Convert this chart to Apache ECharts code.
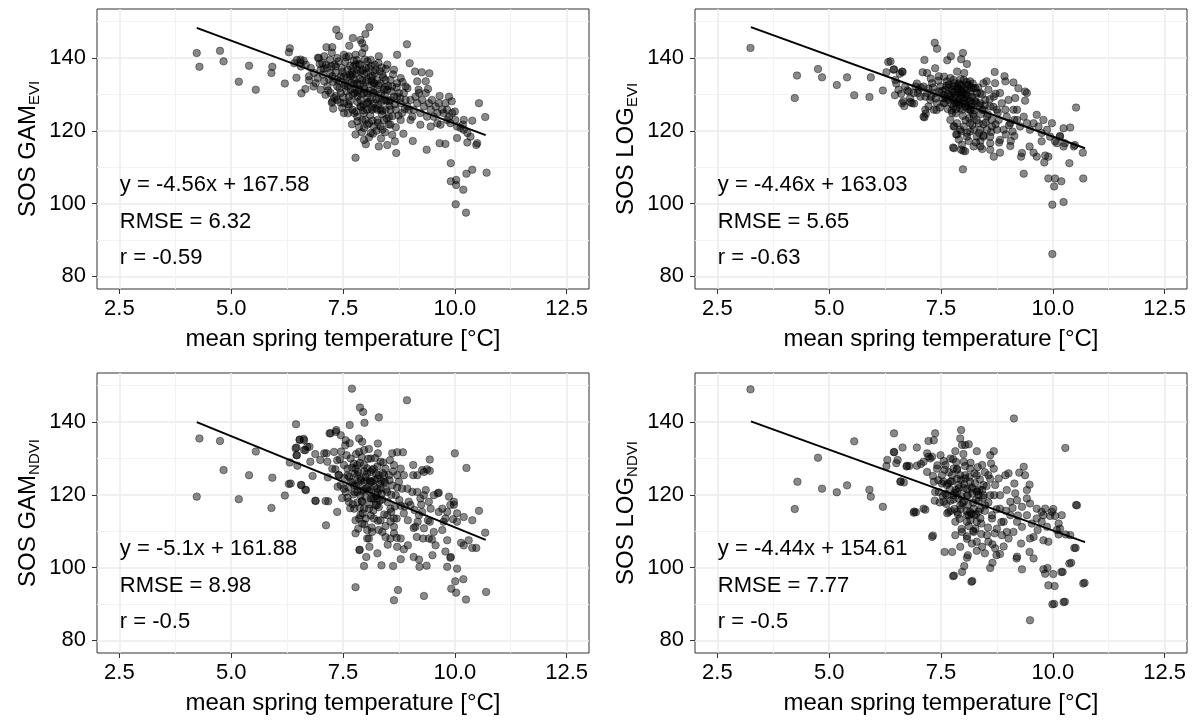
<!DOCTYPE html>
<html>
<head>
<meta charset="utf-8">
<script src="https://cdn.jsdelivr.net/npm/echarts@6/dist/echarts.min.js"></script>
<style>
html,body{margin:0;padding:0;background:#fff;}
#chart{width:1195px;height:720px;}
</style>
</head>
<body>
<div id="chart"></div>
<script>
// ---------- axis values ----------
const xRange = [2, 13];
const yRange = [76.5, 153.5];
const xTicks = [2.5, 5, 7.5, 10, 12.5];
const xTickLabels = ['2.5', '5.0', '7.5', '10.0', '12.5'];
const xMinor = [3.75, 6.25, 8.75, 11.25];
const yTicks = [80, 100, 120, 140];
const yMinor = [90, 110, 130, 150];
const xTitle = 'mean spring temperature [°C]';

// ---------- annotation text ----------
const textY = [105, 95, 85];
const textX = 2.5;
const gamEviText = ['y = -4.56x + 167.58', 'RMSE = 6.32', 'r = -0.59'];
const logEviText = ['y = -4.46x + 163.03', 'RMSE = 5.65', 'r = -0.63'];
const gamNdviText = ['y = -5.1x + 161.88', 'RMSE = 8.98', 'r = -0.5'];
const logNdviText = ['y = -4.44x + 154.61', 'RMSE = 7.77', 'r = -0.5'];

// ---------- regression lines (endpoints) ----------
const gamEviLine = [[4.23, 148.3], [10.69, 118.8]];
const logEviLine = [[3.25, 148.5], [10.72, 115.2]];
const gamNdviLine = [[4.23, 140.0], [10.69, 107.6]];
const logNdviLine = [[3.25, 140.2], [10.72, 107.0]];

// ---------- points ----------
const gamEviPts = [
[4.23,141.4],[4.29,137.6],[4.75,142.0],[4.83,139.1],[5.17,133.5],[5.40,137.9],[5.55,131.3],[5.90,135.9],[5.92,137.6],[6.20,133.0],
[6.29,141.6],[6.31,142.7],[6.46,134.6],[6.57,130.3],[6.66,131.5],[6.47,139.5],[6.55,139.6],[6.62,139.3],[6.74,133.9],[6.84,132.2],
[6.94,140.1],[7.07,137.1],[7.13,143.0],[7.25,141.5],[7.35,147.8],[7.41,146.1],[7.25,127.7],[7.28,126.1],[7.48,126.3],[7.78,112.6],
[8.09,148.5],[8.00,146.6],[7.72,145.5],[7.89,145.0],[7.93,144.1],[7.98,142.8],[7.64,143.4],[7.26,143.0],[8.93,143.8],[8.71,140.9],
[8.99,138.6],[9.11,136.3],[9.26,136.1],[9.43,135.8],[9.16,133.6],[9.35,133.6],[9.19,131.3],[9.40,131.5],[8.94,131.7],[9.66,129.6],
[9.87,129.4],[9.93,128.1],[10.54,127.6],[10.68,123.8],[10.39,122.8],[10.00,125.3],[10.18,121.7],[10.20,120.3],[10.05,118.0],[10.28,116.8],
[10.48,116.1],[9.79,116.4],[9.66,116.6],[9.37,114.8],[9.06,117.2],[8.69,113.9],[8.49,116.1],[8.30,115.7],[8.66,117.1],[8.85,119.2],
[8.60,118.9],[8.01,116.3],[7.97,117.5],[8.17,119.2],[9.91,111.1],[10.39,109.3],[10.26,108.2],[10.71,108.5],[9.91,106.1],[10.03,106.5],
[10.03,105.1],[10.19,103.8],[10.02,99.8],[10.25,97.5],[7.26,128.1],
[6.96,140.0],[7.08,140.5],[7.21,139.5],[7.37,140.0],[7.52,140.9],[7.63,140.5],[7.78,140.9],[7.93,141.4],[8.12,139.5],[8.30,140.5],
[8.49,138.2],[8.64,136.8],[8.79,134.5],[8.90,132.2],
[7.15,132.2],[7.30,129.0],[7.52,127.6],[7.71,125.8],[7.82,123.9],[7.93,123.0],[8.08,122.1],[8.19,121.2],[8.38,120.3],[8.56,121.7],
[8.79,123.0],[9.01,123.0],[9.23,121.7],[9.46,121.2],[9.61,122.1],[9.83,123.0],
[6.56,137.7],[6.74,135.0],[6.89,133.1],[7.00,136.8],[7.08,133.6],[7.22,135.9],[7.37,132.2],[7.45,135.0],[7.60,136.8],[7.67,131.3],
[7.75,134.0],[7.82,129.4],[7.89,136.3],[7.97,132.2],[8.04,127.6],[8.12,135.0],[8.19,130.4],[8.27,125.8],[8.34,133.1],[8.42,128.5],
[8.49,131.3],[8.56,125.8],[8.64,129.4],[8.71,133.1],[8.79,127.6],[8.86,130.4],[8.94,126.7],[9.01,128.5],[9.08,125.8],[9.16,127.6],
[9.23,124.9],[9.31,126.7],[9.38,123.9],[9.46,125.8],[9.53,123.9],[9.61,124.9],[9.68,121.7],[9.75,124.9],[9.83,125.8],[9.90,122.1],
[10.05,121.2],[10.13,120.8],[10.20,123.0],[10.28,119.4],[10.35,118.4],[10.50,116.6],
[7.45,130.4],[7.56,133.1],[7.63,129.4],[7.71,135.4],[7.78,138.2],[7.86,131.3],[7.93,134.0],[8.01,137.3],[8.04,130.4],[8.15,132.7],
[8.23,136.8],[8.30,129.0],[8.38,135.4],[8.45,134.0],[8.53,128.1],[8.60,132.2],[8.68,125.8],[8.75,130.4],[8.82,124.9],[8.90,128.5],
[8.97,125.8],[9.05,123.9],[9.12,129.4],[9.20,130.4],[9.27,128.5],[9.35,130.4],[9.42,127.6],[9.49,128.5],[9.57,126.7],[9.64,127.6],
[9.72,125.8],[9.79,127.6],[9.87,123.9],[9.94,124.9],[10.01,123.0],
[6.41,138.6],[6.55,138.8],[6.67,138.2],[6.78,137.3],[6.85,135.9],[6.93,134.5],[7.04,138.6],[7.15,137.3],[7.26,135.0],[7.34,137.7],
[7.41,133.6],[7.00,131.3],[7.11,129.9],[7.22,130.4],[7.37,128.5],
[7.75,124.9],[7.82,122.6],[8.04,121.7],[8.12,119.4],[7.97,120.8],[8.27,123.0],[8.42,123.0],[7.63,126.7],[7.52,124.9],[7.89,126.7],
[8.15,125.8],[8.45,125.8],[8.34,121.2],
[7.67,135.0],[7.82,133.1],[7.97,130.4],[8.12,128.5],[7.75,130.4],[7.89,128.5],[8.04,134.0],[8.19,133.1],[7.60,132.2],[7.52,135.0],
[7.82,136.8],[8.27,131.3],[8.04,125.8],[8.19,127.6],[8.34,125.8],[7.97,124.9],[8.56,128.5],[8.71,129.4],[8.42,131.3],[8.56,134.0]
];
const gamEviCore = [
[7.31,138.2],[7.36,134.1],[7.42,131.7],[7.47,137.3],[7.51,129.2],[7.55,138.9],[7.58,134.6],[7.62,127.3],[7.66,137.9],[7.69,133.2],
[7.72,129.9],[7.74,139.3],[7.77,131.6],[7.80,135.8],[7.83,127.9],[7.85,138.4],[7.88,132.8],[7.91,130.1],[7.94,136.7],[7.96,127.2],
[7.99,139.6],[8.02,133.5],[8.05,129.1],[8.07,137.2],[8.10,131.0],[8.13,126.4],[8.16,135.1],[8.18,130.6],[8.21,138.1],[8.24,128.7],
[8.26,133.9],[8.29,127.1],[8.32,136.4],[8.35,130.2],[8.37,124.6],[8.40,134.7],[8.43,129.8],[8.46,137.0],[8.48,123.4],[8.51,132.3],
[8.54,126.9],[8.58,130.8],[8.62,135.5],[8.66,127.3],[8.70,131.9],[8.74,124.2],[8.78,129.0],[8.83,133.4],[8.88,126.0],
[7.35,129.6],[7.44,127.8],[7.53,132.6],[7.61,124.8],[7.70,136.1],[7.79,125.3],[7.87,134.3],[7.95,125.6],[8.03,136.0],[8.11,124.3],
[8.20,133.1],[8.28,122.2],[8.36,127.9],[8.44,132.0],[8.52,121.8],[8.60,124.0],[8.68,121.0],[7.58,130.9],[7.66,128.1],[7.74,132.9],
[7.82,130.7],[7.90,126.6],[7.98,131.5],[8.06,127.9],[8.14,133.8],[8.22,126.2],[8.30,132.5],[8.38,125.5],[8.47,128.3],[7.40,139.1],
[7.49,136.2],[7.57,140.2],[7.65,135.5],[7.73,137.6],[7.81,139.5],[7.89,138.2],[7.97,135.6],[8.05,139.1],[8.13,137.8],[8.21,135.9],
[8.29,138.7],[8.37,137.4],[7.28,133.4],[7.33,136.0],[7.19,134.2],[7.12,138.2],[7.05,135.5],[6.98,138.4],[7.17,131.1],[7.24,137.8],
[8.00,123.0],[7.86,121.0],[8.16,122.8],[8.25,120.0],[7.92,119.6],[8.08,118.2],[8.44,119.6],[8.53,123.8],[8.35,117.9],[7.70,121.8],
[7.78,119.0]
];

const logEviPts = [
[3.24,142.8],[4.23,129.0],[4.28,135.2],[4.75,137.0],[4.84,134.7],[5.17,132.6],[5.40,134.7],[5.56,129.8],[5.90,129.3],[5.93,134.7],
[6.20,131.1],[6.32,138.9],[6.28,136.1],[6.45,136.9],[6.47,129.8],[6.50,133.0],[6.58,135.7],[6.61,130.2],[6.64,136.2],[6.66,128.1],
[6.68,126.8],[6.75,131.1],[6.81,127.9],[6.90,127.5],[6.96,133.0],[7.13,139.5],[7.13,123.7],[7.16,124.7],[7.36,144.2],[7.41,142.6],
[7.64,139.4],[7.72,140.5],[7.79,115.2],[7.86,119.0],[8.00,114.5],[7.99,109.4],
[7.99,141.4],[7.95,139.7],[8.08,138.4],[8.02,135.9],[7.86,136.3],[7.37,137.2],[7.19,135.9],[7.09,136.1],[6.44,136.8],[6.63,136.3],
[8.70,136.2],[8.92,135.0],[9.12,133.3],[9.23,131.7],[9.38,130.8],[9.42,130.4],[8.94,133.6],[9.16,129.0],[9.38,128.3],[9.20,125.8],
[9.14,123.0],[9.64,124.4],[9.79,123.0],[9.98,122.1],[10.24,120.7],[10.39,120.9],[10.52,126.4],[10.67,114.0],[10.47,115.7],[10.24,115.7],
[10.16,118.6],[10.05,117.1],[9.90,112.9],[9.81,111.3],[9.83,113.2],[9.64,112.9],[9.57,114.0],[9.75,117.1],[9.48,115.7],[9.31,113.9],
[9.29,112.9],[9.05,115.8],[9.06,117.2],[9.14,118.6],[8.82,114.0],[8.68,112.9],[8.60,116.6],[8.42,115.0],[8.38,117.2],[8.08,118.4],
[8.04,114.4],[7.97,116.2],[7.95,114.8],[7.77,115.4],[7.84,119.0],[9.35,108.2],[10.37,111.1],[10.68,106.9],[9.90,106.9],[10.05,106.9],
[10.03,104.7],[10.19,106.1],[9.99,99.7],[10.24,100.4],[9.99,86.1],
[6.37,139.1],[6.48,134.0],[6.55,131.3],[6.70,132.2],[6.78,130.8],[6.63,127.6],[6.85,127.6],[6.93,132.2],[7.00,131.3],[7.11,123.9],
[7.49,132.2],[7.56,129.9],[7.63,133.6],[7.67,128.5],[7.75,131.3],[7.78,134.0],[7.82,127.6],[7.89,130.4],[7.93,132.7],[7.97,125.8],
[8.01,129.0],[8.08,131.3],[8.12,126.7],[8.15,133.6],[8.19,129.4],[8.23,123.9],[8.27,131.7],[8.30,127.6],[8.34,122.1],[8.38,130.4],
[8.42,125.8],[8.45,133.1],[8.49,128.5],[8.53,123.9],[8.56,131.3],[8.60,126.7],[8.64,121.2],[8.68,129.4],[8.71,133.1],[8.75,125.8],
[8.79,123.0],[8.82,130.4],[8.86,127.6],[8.90,120.3],[8.94,125.8],[8.97,123.9],[9.01,128.5],[9.05,122.1],[9.12,125.8],[9.20,123.0],
[9.27,121.2],[9.35,123.9],[9.42,122.1],[9.49,120.3],[9.57,122.1],[9.68,121.2],[9.75,119.4],[9.87,120.3],[9.94,118.4],[10.09,116.6],
[10.16,118.4],[10.27,116.6],[10.49,116.1],
[7.11,132.2],[7.19,130.4],[7.26,128.5],[7.30,133.1],[7.34,125.8],[7.37,130.4],[7.41,127.6],[7.45,135.0],[7.22,126.7],[7.04,129.4],
[6.89,130.4],[6.81,129.0],[7.15,125.8],
[7.71,123.0],[7.78,121.2],[7.86,122.1],[7.93,120.3],[8.01,121.2],[8.08,119.4],[8.15,122.1],[8.23,120.3],[8.30,118.4],[8.38,120.3],
[8.45,118.4],[8.53,120.3],[8.60,118.4],[8.75,120.3],[8.82,117.5],[8.60,114.8],[8.38,115.7],[8.12,117.2],[8.23,115.7],
[7.60,131.3],[7.71,129.4],[7.86,132.2],[7.97,130.8],[8.04,127.6],[7.78,126.7],[8.15,125.8],[8.30,130.4],[7.67,132.7],[7.89,128.1],
[8.08,132.7],[7.82,129.9],[7.93,126.2],[8.19,127.6],[7.56,127.6],[8.01,134.0],[8.23,131.7],[7.75,124.9],[8.38,127.6],[8.45,125.8]
];
const logEviCore = [
[7.32,131.9],[7.38,128.9],[7.44,133.8],[7.48,126.4],[7.53,131.0],[7.57,134.9],[7.61,129.0],[7.65,126.0],[7.68,131.9],[7.71,134.5],
[7.74,127.4],[7.77,130.6],[7.80,133.1],[7.83,124.8],[7.85,129.3],[7.88,131.7],[7.91,127.1],[7.94,134.2],[7.96,129.9],[7.99,124.1],
[8.02,131.5],[8.05,126.7],[8.07,133.4],[8.10,129.6],[8.13,123.5],[8.16,130.8],[8.18,127.3],[8.21,133.0],[8.24,125.7],[8.27,129.1],
[8.30,122.9],[8.33,131.9],[8.36,127.0],[8.39,124.6],[8.42,130.0],[8.45,121.8],[8.48,127.0],[8.52,133.6],[8.55,124.5],[8.59,128.7],
[8.63,123.0],[8.67,126.6],[8.72,130.2],[8.77,125.0],
[7.62,132.4],[7.70,129.6],[7.78,132.3],[7.86,127.7],[7.94,131.1],[8.02,128.4],[8.10,126.0],[8.18,131.9],[8.26,128.1],[7.66,130.1],
[7.74,125.6],[7.82,130.9],[7.90,133.0],[7.98,127.6],[8.06,130.2],[8.14,128.2],[8.22,124.6],[7.58,127.7],[7.84,126.0],[7.92,129.0],
[8.00,130.4],[8.08,128.9],[8.16,125.6],[7.76,128.6],[7.96,132.4],[8.12,132.6],[7.54,129.0],[7.46,130.8],[7.40,125.7],[7.28,129.4],
[7.22,131.6],[7.15,129.4],[7.05,131.9],[6.98,130.4],[7.27,134.4],
[7.80,121.2],[7.95,119.8],[8.05,122.9],[8.20,121.6],[8.35,119.4],[8.50,122.3],[7.90,117.6],[8.15,119.8],[8.28,116.8],[8.45,118.7],
[8.62,119.7],[8.72,121.8],[8.80,116.8],[8.95,119.0],[9.02,121.5],[9.10,119.8]
];

const gamNdviPts = [
[4.23,119.5],[4.29,135.5],[4.75,134.8],[4.83,126.8],[5.17,118.8],[5.40,125.4],[5.55,131.9],[5.90,116.4],[5.92,124.7],[6.20,119.8],
[6.29,123.0],[6.31,128.9],[6.45,139.4],[6.46,133.0],[6.47,130.9],[6.48,128.0],[6.57,122.7],[6.53,135.1],[6.62,135.4],[6.66,121.4],
[6.66,132.3],[6.75,133.2],[6.77,129.1],[6.82,125.2],[6.88,118.4],[6.88,131.2],[6.99,129.6],[7.12,111.6],[7.13,131.4],[7.16,124.8],
[7.17,118.2],[7.20,136.9],[7.35,137.8],[7.37,115.3],[7.65,139.2],[7.70,149.2],[7.78,94.6],[7.87,104.9],[7.97,100.4],
[8.93,146.0],[7.88,144.0],[7.95,142.8],[7.98,139.8],[8.30,141.3],[6.53,135.2],[6.63,135.0],[6.44,132.8],[6.46,130.9],[6.63,132.3],
[6.70,133.2],[6.33,123.1],[6.56,122.7],[6.67,121.3],[6.89,118.3],[7.11,118.3],[7.22,136.9],[7.34,137.3],[7.45,136.4],[7.56,135.0],
[7.86,135.5],[7.93,134.6],[7.97,132.3],[8.28,134.1],[8.28,131.4],[8.60,131.4],[8.71,131.7],[8.84,131.7],[9.07,128.2],[9.27,126.8],
[9.38,127.0],[9.44,129.7],[10.00,131.4],[10.26,127.4],[9.64,120.6],[9.87,119.5],[9.98,117.3],[10.05,114.9],[10.20,113.9],[10.39,113.0],
[10.54,115.6],[10.68,109.6],[10.31,107.5],[10.20,106.1],[10.39,105.4],[10.48,105.4],[10.14,106.8],[9.83,107.5],[9.91,102.9],[9.83,100.2],
[10.05,99.7],[10.19,96.8],[10.01,96.2],[9.92,94.2],[10.03,93.1],[10.25,91.2],[10.70,93.3],[9.31,92.2],[8.64,91.0],[8.73,93.8],
[9.57,106.1],[9.50,103.4],[9.37,100.5],[9.21,100.2],[9.20,102.2],[9.08,102.9],[9.29,108.0],[8.95,106.1],[8.79,102.3],[8.62,100.4],
[8.36,100.6],[8.02,102.9],[7.87,104.8],[8.27,103.9],[8.09,105.7],[8.71,105.7],[8.86,105.0],[8.79,108.0],[8.64,109.4],[8.56,108.0],
[8.45,108.4],[8.30,110.3],[8.34,113.0],[8.15,109.8],[8.04,108.0],[8.04,110.3],[7.78,109.4],[7.93,112.1],[7.78,113.0],[8.64,111.2],
[8.64,113.5],[9.08,110.9],[9.17,112.6],[9.31,110.8],[9.44,112.6],[9.53,109.8],[9.72,110.3],[9.79,104.4],[9.90,102.7],[9.42,108.0],
[9.49,107.7],[9.75,112.6],[9.83,115.3],[9.96,113.3],[10.05,112.6],[9.90,117.2],[9.98,118.1],[9.42,118.1],[9.27,115.3],[9.20,114.4],
[9.12,111.2],[9.01,117.2],[8.86,114.9],[8.79,117.0],[9.44,126.6],[9.31,126.3],[9.16,125.4],[9.07,125.4],[9.62,120.4],
[7.08,131.4],[7.15,129.1],[7.26,127.2],[7.30,131.8],[7.37,129.5],[7.41,125.4],[7.45,122.7],[7.52,128.2],[7.56,120.8],[7.60,125.4],
[7.63,118.1],[7.67,130.0],[7.71,123.6],[7.75,116.2],[7.78,127.2],[7.82,120.8],[7.86,131.8],[7.89,124.5],[7.89,114.4],[7.93,118.1],
[7.97,128.2],[8.01,121.7],[8.04,125.9],[8.08,116.2],[8.12,130.0],[8.12,119.0],[8.15,123.6],[8.19,127.2],[8.23,117.1],[8.27,121.7],
[8.30,125.4],[8.34,129.1],[8.38,118.7],[8.42,123.6],[8.45,127.2],[8.49,120.8],[8.53,125.4],[8.56,116.2],[8.60,122.6],[8.64,128.2],
[8.68,119.9],[8.71,125.4],[8.75,123.6],[8.79,127.2],[8.82,121.7],[8.86,125.4],[8.94,121.7],[8.97,118.1],[9.05,120.8],[9.16,120.8],
[9.23,119.0],[9.31,119.9],[9.35,121.3],[9.46,116.2],[9.53,119.9],[9.64,115.3],[9.72,116.2],[9.79,113.5],
[7.82,125.4],[7.97,123.6],[8.12,126.3],[8.27,124.5],[8.04,121.7],[7.89,119.9],[8.19,119.0],[8.34,121.7],[8.42,125.4],[7.75,122.6],
[7.60,127.2],[7.82,128.2],[8.12,123.6],[7.97,116.2],[7.86,113.5],[8.01,113.5],[8.27,119.0],[8.49,114.4],[8.56,112.6],[8.19,113.5],
[8.38,109.8],[8.08,108.0]
];
const gamNdviCore = [
[7.33,127.0],[7.38,122.2],[7.43,129.8],[7.48,119.1],[7.53,124.6],[7.58,130.9],[7.62,122.0],[7.66,116.3],[7.70,127.5],[7.73,120.1],
[7.76,125.8],[7.79,131.2],[7.82,117.9],[7.85,123.3],[7.88,128.8],[7.91,121.1],[7.94,114.9],[7.97,126.5],[8.00,119.4],[8.03,123.9],
[8.06,129.9],[8.09,117.4],[8.12,121.5],[8.15,126.9],[8.18,115.7],[8.21,124.1],[8.24,119.9],[8.27,127.8],[8.30,116.6],[8.33,123.0],
[8.36,120.3],[8.39,126.0],[8.42,114.6],[8.46,121.4],[8.50,118.0],[8.54,124.0],[8.58,120.0],[8.62,126.4],[8.66,116.8],[8.71,122.0],
[8.76,118.6],
[7.60,119.2],[7.68,123.5],[7.76,120.7],[7.84,126.3],[7.92,118.3],[8.00,124.9],[8.08,121.0],[8.16,119.0],[8.24,125.7],[8.32,118.4],
[7.72,117.4],[7.80,122.5],[7.88,116.4],[7.96,121.4],[8.04,127.3],[8.12,114.3],[8.20,122.2],[8.28,120.8],[8.36,123.8],[7.64,125.0],
[7.90,124.0],[8.10,123.9],[8.26,117.2],[8.44,123.4],[7.52,121.7],[7.40,125.5],[7.46,131.9],[7.55,133.6],[7.65,134.2],[7.74,128.6],
[7.92,130.3],[8.08,132.6],[8.22,130.1],[8.40,128.9],[8.55,129.5],
[7.98,111.9],[8.14,111.0],[8.28,112.9],[7.84,110.7],[8.45,111.4],[8.58,115.3],[8.70,113.5],[8.88,116.8],[8.95,113.0],[9.10,115.8],
[9.25,117.3],[9.40,113.0],[9.15,108.4],[8.70,108.2],[8.50,106.3]
];

const logNdviPts = [
[3.24,149.0],[4.23,116.1],[4.29,123.6],[4.75,130.2],[4.84,121.7],[5.17,120.7],[5.40,122.6],[5.56,134.7],[5.90,121.4],[5.93,119.5],
[6.20,116.7],[6.45,136.9],[6.45,131.7],[6.30,129.6],[6.28,127.9],[6.50,128.7],[6.53,129.6],[6.64,133.0],[6.60,123.7],[6.67,123.4],
[6.73,127.8],[6.79,127.9],[6.90,115.4],[6.94,115.2],[6.96,133.0],[7.05,128.5],[7.15,115.9],[7.22,130.5],[7.32,108.8],[7.36,118.4],
[7.79,97.8],[8.20,96.3],[9.13,141.0],[10.28,132.9],[10.54,117.1],[10.51,105.4],[10.41,101.3],[10.22,98.8],[10.27,90.6],[10.03,90.0],
[10.71,95.8],[9.49,85.5],
[7.95,137.8],[7.93,135.5],[7.97,133.7],[8.04,133.7],[8.12,133.9],[7.82,132.0],[8.30,132.0],[8.68,132.0],[8.60,130.9],[7.37,136.9],
[7.34,135.0],[7.22,134.8],[6.45,131.8],[7.19,131.4],[7.30,130.5],[6.96,128.0],[6.74,128.0],[6.59,123.6],[6.89,115.1],[7.11,116.2],
[7.30,108.4],[7.58,104.3],[7.75,104.3],[7.77,97.6],[7.97,98.8],[8.02,100.4],[8.18,96.1],[8.08,102.7],[8.10,103.4],[7.93,105.7],
[8.60,99.9],[8.65,101.3],[8.74,103.4],[8.82,103.7],[9.20,103.0],[9.19,102.5],[9.31,99.5],[9.57,102.5],[9.48,104.3],[9.29,106.6],
[9.49,108.0],[9.79,99.5],[9.83,98.3],[9.88,99.9],[10.01,98.2],[10.19,98.8],[10.37,101.1],[10.48,105.4],[10.68,95.6],[9.90,95.1],
[10.04,94.9],[9.99,89.9],[10.24,90.5],[10.52,117.2],[10.39,108.9],[10.29,109.1],[10.13,109.1],[10.16,110.7],[9.98,115.3],[9.83,116.2],
[9.75,112.6],[9.87,111.2],[9.66,110.3],[9.57,108.4],[9.79,107.5],[9.90,107.1],[10.13,112.1],[10.20,114.4],[10.05,114.2],[10.01,116.1],
[9.94,114.2],
[9.35,127.7],[9.25,126.1],[9.38,125.4],[9.14,123.1],[9.48,122.8],[9.42,121.3],[9.16,120.4],[9.20,118.5],[9.42,119.0],[9.01,125.9],
[8.94,125.4],[8.79,124.5],[8.97,121.3],[8.82,119.9],[9.05,118.1],[9.31,116.7],[9.49,117.6],[9.64,116.2],[9.79,114.4],
[7.11,129.1],[7.19,126.3],[7.26,130.0],[7.34,123.6],[7.41,127.2],[7.45,120.8],[7.49,130.9],[7.52,125.4],[7.56,118.1],[7.60,128.2],
[7.63,122.7],[7.67,115.3],[7.71,130.0],[7.75,125.4],[7.78,119.9],[7.82,112.6],[7.86,127.2],[7.89,122.7],[7.93,117.1],[7.97,109.8],
[8.01,129.1],[8.04,124.5],[8.08,119.9],[8.12,114.4],[8.15,127.2],[8.19,121.7],[8.23,116.2],[8.27,110.7],[8.30,125.4],[8.34,119.9],
[8.38,113.5],[8.42,128.2],[8.45,122.7],[8.49,117.1],[8.53,108.9],[8.56,125.4],[8.60,119.9],[8.64,114.4],[8.68,127.2],[8.71,122.7],
[8.75,110.7],[8.82,116.2],[8.90,112.6],[8.97,109.8],[9.05,114.4],[9.12,109.8],[9.20,112.6],[9.31,111.2],[9.42,114.4],[9.53,112.1],
[7.71,123.6],[7.86,120.8],[8.01,118.1],[8.15,115.3],[8.30,112.6],[7.86,115.3],[8.08,112.6],[8.23,109.8],[7.93,125.4],[7.78,127.2],
[8.15,123.6],[8.30,120.8],[7.63,119.9],[8.08,114.4],[8.38,116.2],[7.56,123.6],[8.45,119.9],[8.08,107.9],[8.30,107.1],[8.19,106.6],
[8.42,105.7],[8.56,107.1],[8.71,105.3],[8.86,108.9],[9.01,108.0],[9.64,113.5],[9.75,115.3],[10.09,110.3]
];
const logNdviCore = [
[7.32,125.2],[7.37,120.8],[7.42,128.1],[7.47,117.9],[7.52,123.1],[7.56,129.3],[7.60,120.3],[7.64,114.9],[7.68,126.2],[7.71,118.4],
[7.74,123.7],[7.77,129.8],[7.80,116.1],[7.83,121.3],[7.86,126.9],[7.89,119.0],[7.92,113.4],[7.95,124.1],[7.98,117.7],[8.01,121.9],
[8.04,127.9],[8.07,115.6],[8.10,119.8],[8.13,124.9],[8.16,113.1],[8.19,122.1],[8.22,117.8],[8.25,125.9],[8.28,114.6],[8.31,121.0],
[8.34,118.3],[8.37,124.2],[8.40,112.1],[8.44,119.2],[8.48,115.6],[8.52,122.4],[8.56,117.9],[8.60,124.4],[8.64,113.5],[8.69,119.9],
[8.74,116.0],
[7.62,117.5],[7.70,121.5],[7.78,118.7],[7.86,124.4],[7.94,116.1],[8.02,123.0],[8.10,117.2],[8.18,114.8],[8.26,123.2],[8.34,115.4],
[7.72,115.6],[7.80,120.5],[7.88,114.6],[7.96,119.6],[8.04,125.4],[8.12,111.4],[8.20,120.4],[8.28,118.6],[8.36,121.4],[7.66,123.1],
[7.90,121.8],[8.08,121.6],[8.24,114.5],[8.42,121.3],[7.54,119.6],[7.44,124.0],[7.58,126.9],[7.84,129.0],[8.00,131.2],[8.16,128.8],
[8.32,127.6],[8.48,126.2],[8.62,128.6],
[7.96,110.6],[8.08,108.6],[8.22,110.1],[8.40,109.2],[8.55,111.0],[8.70,109.4],[8.85,112.5],[8.95,115.6],[9.10,116.4],[9.22,114.3],
[7.82,108.9],[8.30,104.6],[8.48,103.9],[8.65,106.4],[8.90,105.8]
];

// ---------- chart ----------
const panels = [
  { pts: gamEviPts.concat(gamEviCore),   line: gamEviLine,  main: 'SOS GAM', sub: 'EVI',  text: gamEviText,  left: 97,  top: 9 },
  { pts: logEviPts.concat(logEviCore),   line: logEviLine,  main: 'SOS LOG', sub: 'EVI',  text: logEviText,  left: 695, top: 9 },
  { pts: gamNdviPts.concat(gamNdviCore), line: gamNdviLine, main: 'SOS GAM', sub: 'NDVI', text: gamNdviText, left: 97,  top: 373 },
  { pts: logNdviPts.concat(logNdviCore), line: logNdviLine, main: 'SOS LOG', sub: 'NDVI', text: logNdviText, left: 695, top: 373 }
];

const FONT = '"Liberation Sans", Arial, sans-serif';
const grid = [], xAxis = [], yAxis = [], series = [];

panels.forEach((p, i) => {
  grid.push({
    left: p.left, top: p.top, width: 492, height: 280,
    show: true, borderColor: '#333', borderWidth: 1, backgroundColor: '#fff',
    containLabel: false, outerBoundsMode: 'none'
  });
  xAxis.push({
    type: 'value', gridIndex: i, min: xRange[0], max: xRange[1],
    axisLine: { show: false },
    axisTick: { show: true, length: 5, lineStyle: { color: '#333', width: 1 }, customValues: xTicks },
    axisLabel: {
      customValues: xTicks, fontSize: 22, color: '#000', margin: 9, fontFamily: FONT,
      formatter: v => { const k = xTicks.indexOf(v); return k >= 0 ? xTickLabels[k] : v.toFixed(1); }
    },
    splitLine: { show: true, lineStyle: { color: '#ebebeb', width: 1.5 } },
    name: xTitle, nameLocation: 'middle', nameGap: 38,
    nameTextStyle: { fontSize: 24, color: '#000', fontFamily: FONT }
  });
  xAxis.push({
    type: 'value', gridIndex: i, min: xRange[0], max: xRange[1], position: 'bottom',
    axisLine: { show: false },
    axisTick: { show: false, customValues: xMinor },
    axisLabel: { show: false, customValues: xMinor },
    splitLine: { show: true, lineStyle: { color: '#f2f2f2', width: 1 } }
  });
  yAxis.push({
    type: 'value', gridIndex: i, min: yRange[0], max: yRange[1],
    axisLine: { show: false },
    axisTick: { show: true, length: 5, lineStyle: { color: '#333', width: 1 }, customValues: yTicks },
    axisLabel: { customValues: yTicks, fontSize: 22, color: '#000', margin: 11, fontFamily: FONT },
    splitLine: { show: true, lineStyle: { color: '#ebebeb', width: 1.5 } },
    name: '{m|' + p.main + '}{s|' + p.sub + '}',
    nameLocation: 'middle', nameGap: 55, nameRotate: 90,
    nameTextStyle: {
      color: '#000', fontFamily: FONT,
      rich: {
        m: { fontSize: 24, lineHeight: 28, verticalAlign: 'middle', color: '#000', fontFamily: FONT },
        s: { fontSize: 15, lineHeight: 28, verticalAlign: 'bottom', color: '#000', fontFamily: FONT }
      }
    }
  });
  yAxis.push({
    type: 'value', gridIndex: i, min: yRange[0], max: yRange[1], position: 'left',
    axisLine: { show: false },
    axisTick: { show: false, customValues: yMinor },
    axisLabel: { show: false, customValues: yMinor },
    splitLine: { show: true, lineStyle: { color: '#f2f2f2', width: 1 } }
  });

  series.push({
    type: 'scatter', xAxisIndex: 2 * i, yAxisIndex: 2 * i, data: p.pts,
    symbolSize: 7.5, silent: true, z: 2,
    itemStyle: { color: 'rgba(0,0,0,0.58)', borderColor: 'rgba(0,0,0,0.5)', borderWidth: 1 }
  });
  series.push({
    type: 'line', xAxisIndex: 2 * i, yAxisIndex: 2 * i, data: p.line,
    symbol: 'none', silent: true, z: 3,
    lineStyle: { color: '#000', width: 2 }
  });
  series.push({
    type: 'scatter', xAxisIndex: 2 * i, yAxisIndex: 2 * i, silent: true, z: 4,
    symbol: 'rect', symbolSize: 1,
    itemStyle: { color: 'rgba(0,0,0,0)', opacity: 1 },
    data: textY.map((y, k) => ({ value: [textX, y], name: p.text[k] })),
    label: {
      show: true, position: 'right', distance: 0, formatter: d => d.name,
      fontSize: 22, color: '#000', opacity: 1, textBorderWidth: 0, fontFamily: FONT
    }
  });
});

const chart = echarts.init(document.getElementById('chart'), null, { renderer: 'canvas' });
chart.setOption({
  animation: false,
  backgroundColor: '#fff',
  textStyle: { fontFamily: FONT },
  grid, xAxis, yAxis, series
});
</script>
</body>
</html>
